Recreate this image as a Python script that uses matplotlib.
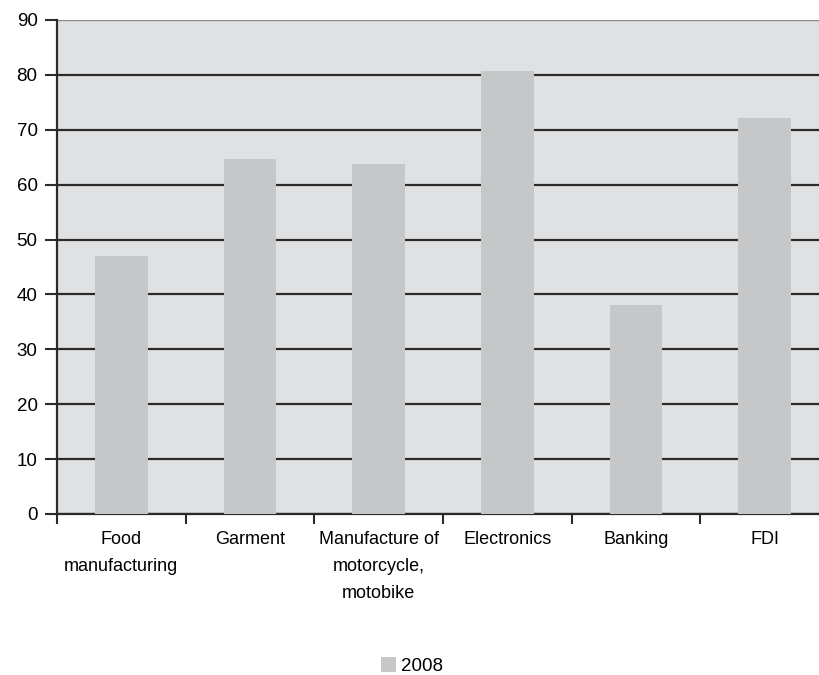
import matplotlib.pyplot as plt
import numpy as np

sectors = ["Food\nmanufacturing", "Garment", "Manufacture of\nmotorcycle,\nmotobike",
           "Electronics", "Banking", "FDI"]
values_2008 = [47, 64.7, 63.8, 80.7, 38, 72.1]
yticks = [0, 10, 20, 30, 40, 50, 60, 70, 80, 90]

plt.rcParams['font.family'] = ['Liberation Sans', 'DejaVu Sans']

fig = plt.figure(figsize=(8.19, 6.75), dpi=100)
# plot area runs a little past the right edge of the figure
ax = fig.add_axes([57/819, 1 - 514/675, 772/819, 494/675])
ax.set_facecolor('#e0e1e3')

x = np.arange(len(sectors))
ax.bar(x, values_2008, width=0.41, color='#c6c7c9', zorder=3, label='2008')

ax.set_xlim(-0.5, len(sectors) - 0.5)
ax.set_ylim(0, 90)
ax.set_yticks(yticks)
ax.yaxis.grid(True, color='#2b2b2b', linewidth=1.6, zorder=1)
ax.set_axisbelow(True)

for side in ['top', 'right']:
    ax.spines[side].set_visible(False)
ax.spines['left'].set_color('#2b2b2b')
ax.spines['left'].set_linewidth(1.6)
ax.spines['bottom'].set_color('#2b2b2b')
ax.spines['bottom'].set_linewidth(1.6)
ax.axhline(90, color='#a0a0a0', linewidth=1.2, zorder=2)

# category ticks sit between bars, labels centred under them
ax.set_xticks(np.arange(len(sectors) + 1) - 0.5)
ax.set_xticklabels([])
ax.set_xticks(x, minor=True)
ax.set_xticklabels(sectors, minor=True, fontsize=13, linespacing=1.8, va='top')
ax.tick_params(axis='x', which='minor', length=0, pad=12)
ax.tick_params(axis='x', which='major', length=7, width=1.5, color='#2b2b2b', direction='out')
ax.tick_params(axis='y', length=9, width=1.5, color='#2b2b2b', labelsize=13.5, pad=5)

fig.legend(loc='center', bbox_to_anchor=(412/819, 1 - 666/675), frameon=False,
           fontsize=13.5, handlelength=0.8, handleheight=0.8, handletextpad=0.3)

fig.savefig('out.png', dpi=100)
